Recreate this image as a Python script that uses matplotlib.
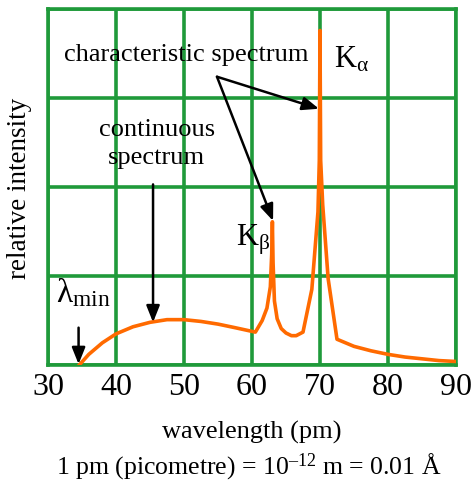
import matplotlib
matplotlib.use("Agg")
import matplotlib.pyplot as plt

plt.rcParams['font.family'] = ['Liberation Serif', 'DejaVu Serif']
plt.rcParams['mathtext.fontset'] = 'custom'
plt.rcParams['mathtext.rm'] = 'Liberation Serif'
plt.rcParams['mathtext.it'] = 'Liberation Serif'
plt.rcParams['mathtext.default'] = 'regular'

# spectrum (wavelength in pm, intensity in grid units)
wavelength = [34.6, 36.0, 38.0, 40.0, 42.5, 45.0, 47.5, 50.0, 52.5, 55.0, 57.5,
              60.5, 61.5, 62.2, 62.7, 62.9, 63.0, 63.1, 63.3, 63.7, 64.3, 65.0,
              65.8, 66.5, 67.5, 68.8, 69.7, 69.9, 70.0, 70.1, 70.4, 71.2, 72.5,
              75.0, 77.5, 80.0, 82.5, 85.0, 87.5, 90.0]
intensity = [0.0, 0.12, 0.25, 0.35, 0.43, 0.48, 0.51, 0.51, 0.49, 0.46, 0.42,
             0.37, 0.50, 0.64, 0.88, 1.25, 1.61, 1.15, 0.72, 0.52, 0.41, 0.36,
             0.33, 0.33, 0.37, 0.85, 1.72, 2.30, 3.76, 2.30, 1.80, 0.97, 0.29,
             0.21, 0.16, 0.12, 0.09, 0.07, 0.05, 0.04]
x_ticks = [30, 40, 50, 60, 70, 80, 90]

green = '#1f9a3a'
orange = '#ff6a00'

fig = plt.figure(figsize=(4.75, 4.81), dpi=100)
ax = fig.add_axes([0.101, 0.239, 0.859, 0.740])

ax.plot(wavelength, intensity, color=orange, lw=2.6, solid_joinstyle='round', zorder=3)

ax.set_xlim(30, 90)
ax.set_ylim(0, 4)
ax.set_xticks(x_ticks)
ax.set_yticks([0, 1, 2, 3, 4])
ax.set_yticklabels([])
ax.tick_params(length=0, labelsize=23, pad=5)
ax.grid(True, color=green, lw=2.6, zorder=1)
for s in ax.spines.values():
    s.set_color(green)
    s.set_linewidth(2.6)

arrow = dict(arrowstyle='-|>,head_length=1.0,head_width=0.4', color='black', lw=1.8,
             shrinkA=0, shrinkB=0)

ax.text(50.4, 3.49, 'characteristic spectrum', fontsize=19, ha='center', va='center')
ax.annotate('', xy=(69.85, 2.88), xytext=(54.85, 3.24), arrowprops=arrow, zorder=4)
ax.annotate('', xy=(63.1, 1.62), xytext=(54.85, 3.24), arrowprops=arrow, zorder=4)
ax.text(72.0, 3.44, r'K$_{α}$', fontsize=22, ha='left', va='center')
ax.text(57.6, 1.42, r'K$_{β}$', fontsize=22, ha='left', va='center')

ax.text(46.0, 2.50, 'continuous\nspectrum', fontsize=19, ha='center', va='center',
        linespacing=1.35)
ax.annotate('', xy=(45.45, 0.48), xytext=(45.45, 2.03), arrowprops=arrow, zorder=4)

ax.text(31.2, 0.82, r'λ$_{min}$', fontsize=24, ha='left', va='center')
ax.annotate('', xy=(34.5, 0.01), xytext=(34.5, 0.42), arrowprops=arrow, zorder=4)

fig.text(0.042, 0.609, 'relative intensity', fontsize=19.5, rotation=90,
         ha='center', va='center')
fig.text(0.531, 0.100, 'wavelength (pm)', fontsize=19, ha='center', va='center')
fig.text(0.523, 0.029, '1 pm (picometre) = 10$^{–12}$ m = 0.01 Å', fontsize=18.5,
         ha='center', va='center')

fig.savefig('out.png', dpi=100)
